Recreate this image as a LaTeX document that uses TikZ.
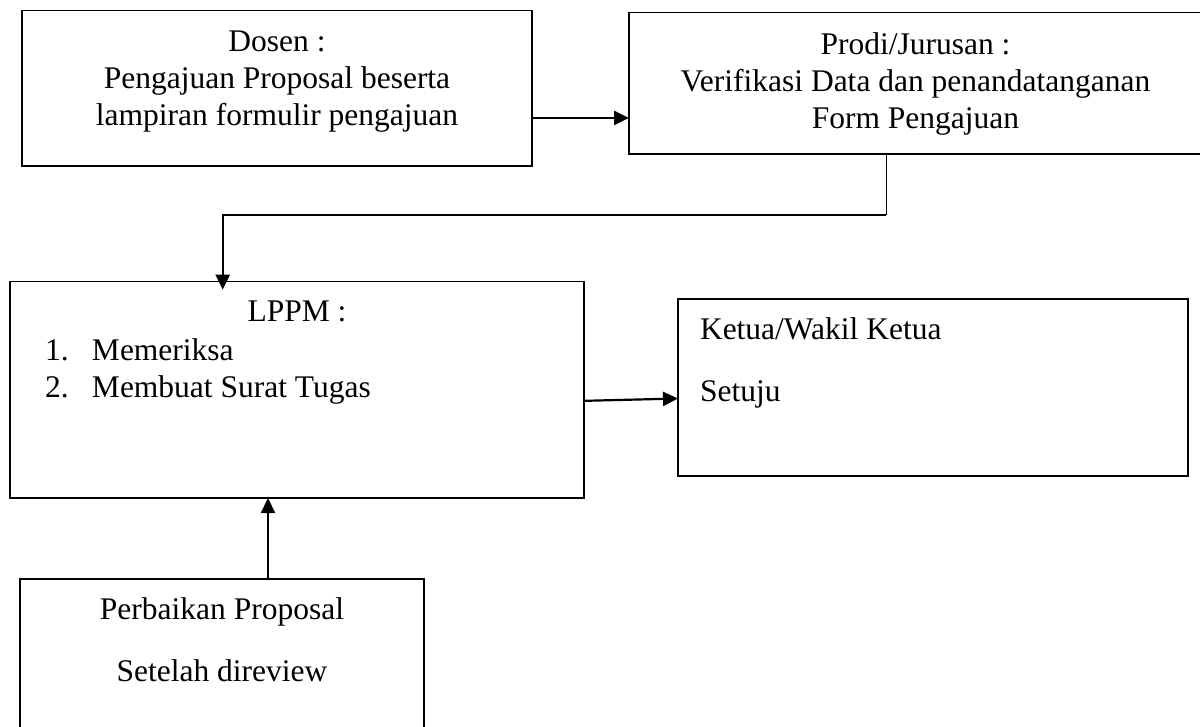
\documentclass[tikz,border=0pt]{standalone}
\usepackage{fontspec}
\setmainfont{Liberation Serif}
\usetikzlibrary{positioning,arrows.meta}

\begin{document}
\begin{tikzpicture}[x=0.5pt,y=-0.5pt,font=\fontsize{15.75pt}{18.5pt}\selectfont]

	% styles
	\tikzstyle{box}=[draw,line width=0.8pt,rectangle,inner sep=0pt,outer sep=0pt];
	\tikzstyle{txt}=[inner sep=0pt,outer sep=0pt];
	\tikzstyle{flow}=[line width=1.1pt,-{Triangle[length=7.5pt,width=7pt]}];
	\tikzstyle{thinline}=[line width=0.5pt];

	% page frame
	\useasboundingbox (0,0) rectangle (1200,727);
	\clip (0,0) rectangle (1200,727);

	% the five boxes
	\node[box,minimum width=255pt,minimum height=77.65pt] (dosen) at (277,88.35) {};
	\node[box,minimum width=286.5pt,minimum height=70.65pt] (prodi) at (915.5,83.35) {};
	\node[box,minimum width=287pt,minimum height=108.15pt] (lppm) at (297,389.85) {};
	\node[box,minimum width=255pt,minimum height=88.5pt] (ketua) at (933,387.5) {};
	\node[box,minimum width=202pt,minimum height=95pt] (perbaikan) at (222,674) {};

	% texts inside the boxes
	\node[txt,align=center,below=10pt of dosen.north] (dosentext) {Dosen :\\ Pengajuan Proposal beserta\\ lampiran formulir pengajuan};
	\node[txt,align=center,below=10pt of prodi.north] (proditext) {Prodi/Jurusan :\\ Verifikasi Data dan penandatanganan\\ Form Pengajuan};
	\node[txt,below=9.5pt of lppm.north] (lppmtext) {LPPM :};
	\node[txt,align=left,below right=28.7pt and 17.5pt of lppm.north west] (lppmlist) {\makebox[23.5pt][l]{1.}Memeriksa\\ \makebox[23.5pt][l]{2.}Membuat Surat Tugas};
	\node[txt,align=left,below right=9.4pt and 11pt of ketua.north west] (ketuatext) {Ketua/Wakil Ketua\\[12.2pt] Setuju};
	\node[txt,align=center,below=9.4pt of perbaikan.north] (perbaikantext) {Perbaikan Proposal\\[12.35pt] Setelah direview};

	% points where the connectors start and bend
	\coordinate (d1) at ([yshift=-14.8pt]dosen.east);
	\coordinate (p1) at ([xshift=-14.75pt]prodi.south);
	\coordinate (p2) at ([yshift=-30.5pt]p1);
	\coordinate (l1) at ([xshift=-37.15pt,yshift=-4pt]lppm.north);
	\coordinate (b1) at ([xshift=23pt]perbaikan.north);

	% connectors
	\draw[flow] (d1) -- (d1 -| prodi.west);
	\draw[thinline] (p1) -- (p2);
	\draw[flow] (p2) -| (l1);
	\draw[flow] ([yshift=-5.5pt]lppm.east) -- ([yshift=-5.5pt]ketua.west);
	\draw[flow] (b1) -- (b1 |- lppm.south);

\end{tikzpicture}
\end{document}
